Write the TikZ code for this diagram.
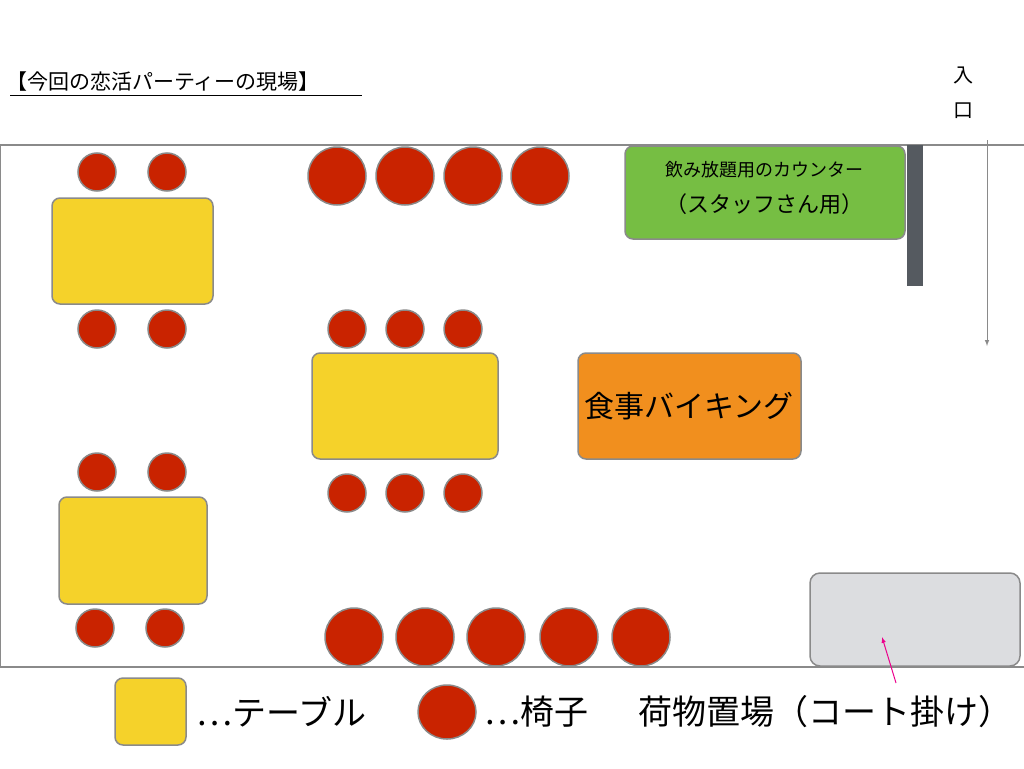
\documentclass[tikz,border=0pt]{standalone}
\usepackage{fontspec}
\setmainfont{Noto Sans CJK JP}
\usetikzlibrary{positioning}
\definecolor{tablecol}{HTML}{F5D22A}
\definecolor{chaircol}{HTML}{C92300}
\definecolor{edgecol}{HTML}{8A8A8A}
\tikzset{
  table/.style={fill=tablecol, draw=edgecol, line width=1.5pt, rounded corners=8pt},
  chair/.style={fill=chaircol, draw=edgecol, line width=1.5pt},
  wall/.style={draw=edgecol, line width=1.5pt},
}
\newcommand{\fs}[1]{\fontsize{#1}{#1}\selectfont}
\begin{document}
\begin{tikzpicture}[x=1pt,y=-1pt]
\useasboundingbox (0,0) rectangle (1024,768);

% title
\node [anchor=west, inner sep=0] (title) at (6,82) {\fs{21}【今回の恋活パーティーの現場】};
\draw [line width=1pt] (10,95)--(362,95);

% entrance
\node (iri) at (963,75) {\fs{20}入};
\node (kuchi) at (963,111) {\fs{20}口};
\draw [-latex, edgecol, line width=1pt] (987,140)--(987,346);

% walls
\draw [wall] (0,145)--(1024,145);
\draw [wall] (0,667)--(1024,667);
\draw [edgecol] (0,145)--(0,667);
\fill [fill={rgb,255:red,85;green,90;blue,96}] (907,145) rectangle (923,286);

% counter
\draw [fill={rgb,255:red,118;green,190;blue,67}, draw=edgecol, line width=1.5pt, rounded corners=8pt] (625,146) rectangle (905,239);
\node (counter) at (764,170) {\fs{18}飲み放題用のカウンター};
\node (staff) at (764,204) {\fs{22}（スタッフさん用）};

% buffet
\draw [fill={rgb,255:red,241;green,143;blue,30}, draw=edgecol, line width=1.5pt, rounded corners=8pt] (578,353) rectangle (801,459);
\node (buffet) at (689,406) {\fs{30}食事バイキング};

% baggage
\draw [fill={rgb,255:red,220;green,221;blue,224}, draw=edgecol, line width=1.5pt, rounded corners=10pt] (810,573) rectangle (1020,666);
\draw [-latex, magenta, line width=1pt] (896,683)--(882,637);

% tables
\draw [table] (52,198) rectangle (213,304);
\draw [table] (312,353) rectangle (498,459);
\draw [table] (59,497) rectangle (207,604);

% small chairs
\foreach \x/\y in {97/172,167/172,97/329,167/329,
  347/329,405/329,463/329,347/493,405/493,463/493,
  97/472,167/472,95/628,165/628}
  \draw [chair] (\x,\y) circle (19);

% big chairs
\foreach \x in {337,405,473,540}
  \draw [chair] (\x,176) circle (29);
\foreach \x in {354,425,496,569,641}
  \draw [chair] (\x,637) circle (29);

% legend
\draw [table] (115,678) rectangle (186,745);
\node [anchor=west, inner sep=0] (ltable) at (196,712) {\fs{34}…テーブル};
\draw [chair] (447,712) ellipse (29 and 27);
\node [anchor=west, inner sep=0] (lchair) at (484,712) {\fs{34}…椅子};
\node [anchor=west, inner sep=0] (lbag) at (638,712) {\fs{34}荷物置場（コート掛け）};
\end{tikzpicture}
\end{document}
